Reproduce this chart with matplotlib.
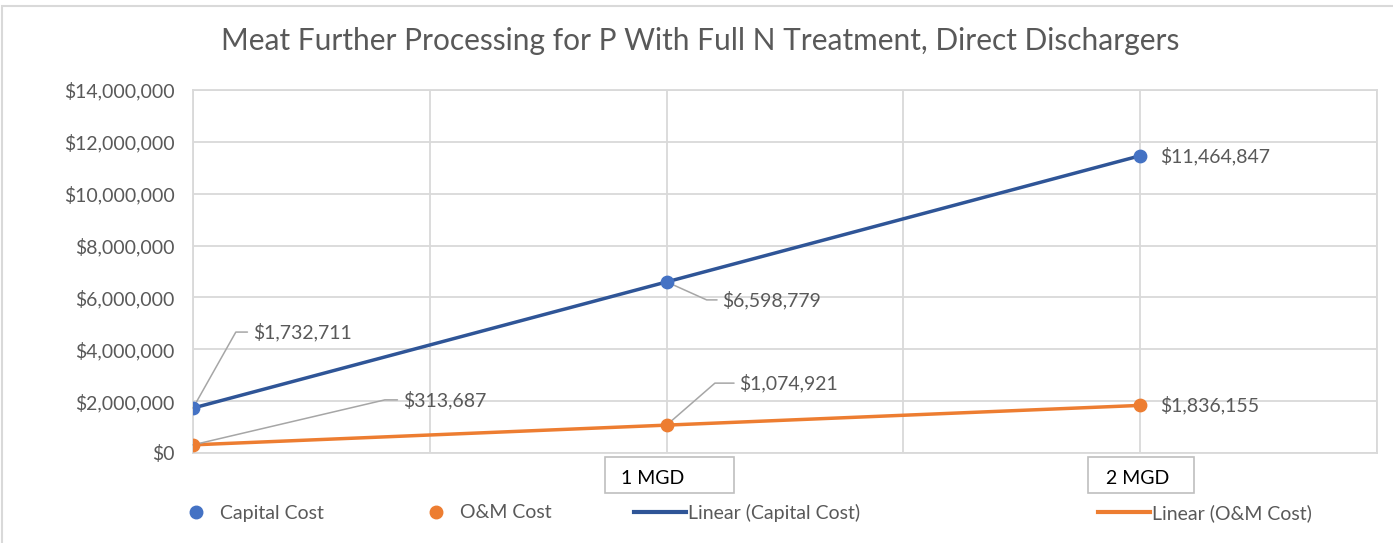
import numpy as np
import matplotlib.pyplot as plt
from matplotlib.lines import Line2D
from matplotlib.patches import Rectangle
from matplotlib.ticker import FuncFormatter, MultipleLocator

plt.rcParams['font.family'] = ['Lato', 'DejaVu Sans']

# data
flow_mgd = [0, 1, 2]
capital_cost = [1732711, 6598779, 11464847]
om_cost = [313687, 1074921, 1836155]
x_box_labels = ['1 MGD', '2 MGD']
x_box_pos = [1, 2]

blue_pt = '#4472C4'
blue_ln = '#2F5597'
orange = '#ED7D31'
txt = '#595959'
grid = '#D9D9D9'

fig = plt.figure(figsize=(13.93, 5.43), dpi=100)
ax = fig.add_axes([193 / 1393, 1 - 453 / 543, (1377 - 193) / 1393, (453 - 90) / 543])

# linear trendlines
xs = np.array(flow_mgd, dtype=float)
cap_fit = np.polyfit(xs, capital_cost, 1)
om_fit = np.polyfit(xs, om_cost, 1)
ax.plot(xs, np.polyval(cap_fit, xs), color=blue_ln, lw=2.5, zorder=3)
ax.plot(xs, np.polyval(om_fit, xs), color=orange, lw=2.5, zorder=3)
ax.scatter(flow_mgd, capital_cost, s=80, color=blue_pt, zorder=4)
ax.scatter(flow_mgd, om_cost, s=80, color=orange, zorder=4)

ax.set_xlim(0, 2.5)
ax.set_ylim(0, 14000000)
ax.xaxis.set_major_locator(MultipleLocator(0.5))
ax.yaxis.set_major_locator(MultipleLocator(2000000))
ax.yaxis.set_major_formatter(FuncFormatter(lambda v, p: '${:,.0f}'.format(v)))
ax.tick_params(axis='x', length=0, labelbottom=False)
ax.tick_params(axis='y', length=0, pad=13, labelsize=14, labelcolor=txt)
ax.grid(True, color=grid, lw=1.3)
for s in ax.spines.values():
    s.set_color(grid)
    s.set_linewidth(1.3)
ax.set_axisbelow(True)

# data labels: (x, y, dx px, dy px, leader style)
lbl_kw = dict(fontsize=14, color=txt, va='center', ha='left', annotation_clip=False)
leader = dict(arrowstyle='-', color='#A6A6A6', lw=1.1, shrinkA=2, shrinkB=0)
labels = [
    (0, capital_cost[0], 60, 76, 'angle,angleA=0,angleB=60.6,rad=0'),
    (0, om_cost[0], 210, 45, 'angle,angleA=0,angleB=13.2,rad=0'),
    (1, capital_cost[1], 56, -18, 'angle,angleA=0,angleB=-24.2,rad=0'),
    (1, om_cost[1], 73, 42, 'angle,angleA=0,angleB=41,rad=0'),
]
for x, y, dx, dy, cs in labels:
    ax.annotate('${:,.0f}'.format(y), xy=(x, y), xytext=(dx * 0.72, dy * 0.72),
                textcoords='offset points', arrowprops=dict(connectionstyle=cs, **leader),
                **lbl_kw)
for y in [capital_cost[2], om_cost[2]]:
    ax.annotate('${:,.0f}'.format(y), xy=(2, y), xytext=(14, 0),
                textcoords='offset points', **lbl_kw)

# boxed category labels under the axis (Excel puts them a bit off-centre)
xtr = ax.get_xaxis_transform()
box_spans = [(-0.131, 0.143), (-0.11, 0.114)]
for x, t, (l, r) in zip(x_box_pos, x_box_labels, box_spans):
    ax.add_patch(Rectangle((x + l, -0.11), r - l, 0.099, transform=xtr, fill=False,
                           ec='#BFBFBF', lw=1.2, clip_on=False))
    ax.text(x - 0.03 if x == 1 else x - 0.006, -0.069, t, transform=xtr, ha='center',
            va='center', fontsize=14, color='black')

fig.text(0.503, 0.924, 'Meat Further Processing for P With Full N Treatment, Direct Dischargers',
         ha='center', va='center', fontsize=21.5, color=txt)

# legend entries placed one by one like the original
entries = [
    (Line2D([], [], ls='', marker='o', ms=9, color=blue_pt), 'Capital Cost', 186),
    (Line2D([], [], ls='', marker='o', ms=9, color=orange), 'O&M Cost', 426),
    (Line2D([], [], color=blue_ln, lw=3), 'Linear (Capital Cost)', 634),
    (Line2D([], [], color=orange, lw=3), 'Linear (O&M Cost)', 1098),
]
for h, t, px in entries:
    is_line = h.get_linestyle() != 'None'
    fig.legend(handles=[h], labels=[t], loc='center left', frameon=False,
               bbox_to_anchor=(px / 1393, 1 - 513 / 543), fontsize=14, labelcolor=txt,
               handlelength=2.65 if is_line else 1.0,
               handletextpad=0.15 if is_line else 0.75, borderpad=0, borderaxespad=0)

fig.patches.append(Rectangle((2 / 1393, -0.05), 1.1, 1 - 6 / 543 + 0.05, transform=fig.transFigure,
                             fill=False, ec='#D9D9D9', lw=1.5))

fig.savefig('out.png', dpi=100)
